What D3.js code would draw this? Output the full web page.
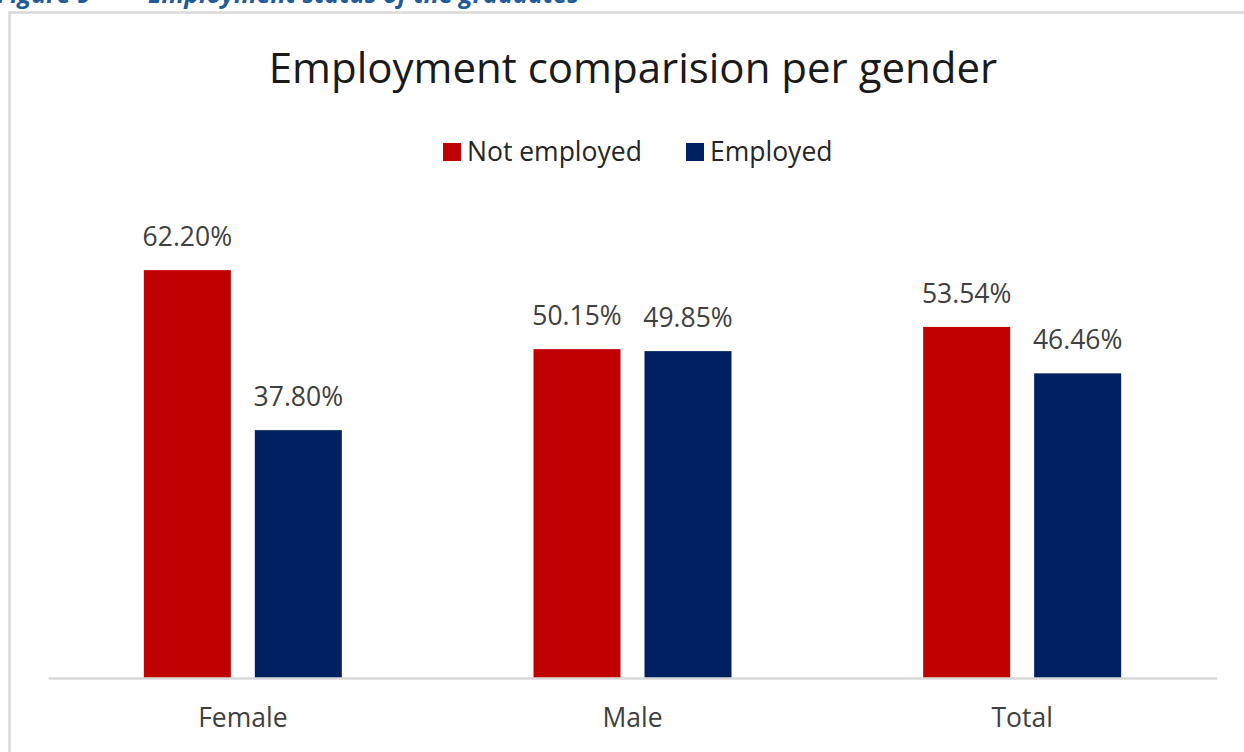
<!DOCTYPE html>
<html>
<head>
<meta charset="utf-8">
<script src="https://cdn.jsdelivr.net/npm/d3@7"></script>
<style>
  html, body { margin: 0; padding: 0; background: #fff; }
  svg { display: block; font-family: "Open Sans", "Noto Sans", sans-serif; }
</style>
</head>
<body>
<svg id="chart" width="1244" height="752"></svg>
<script>
// Employment status by gender (percent of graduates)
const categories = ["Female", "Male", "Total"];
const seriesNames = ["Not employed", "Employed"];
const notEmployed = [62.20, 50.15, 53.54];
const employed = [37.80, 49.85, 46.46];
const seriesColors = ["#C00000", "#002060"];

const rows = categories.map((c, i) => ({ category: c, values: [notEmployed[i], employed[i]] }));

const svg = d3.select("#chart");
const W = 1244, H = 752;

// Figure caption above the chart frame (its upper part runs past the page top)
svg.append("text")
  .attr("x", -3).attr("y", 3)
  .attr("fill", "#1F5C99")
  .attr("font-size", 25).attr("font-weight", 700).attr("font-style", "italic")
  .text("Figure 9");
svg.append("text")
  .attr("x", 148).attr("y", 3)
  .attr("fill", "#1F5C99")
  .attr("font-size", 25).attr("font-weight", 700).attr("font-style", "italic")
  .text("Employment status of the graduates");

// Chart frame
svg.append("rect")
  .attr("x", 9.5).attr("y", 12.5)
  .attr("width", W + 20).attr("height", H + 20)
  .attr("fill", "#fff")
  .attr("stroke", "#D9D9D9").attr("stroke-width", 2.5);

// Title
svg.append("text")
  .attr("x", 633).attr("y", 83)
  .attr("text-anchor", "middle")
  .attr("fill", "#1a1a1a")
  .attr("font-size", 42)
  .text("Employment comparision per gender");

// Legend
const legendItems = [
  { name: seriesNames[0], color: seriesColors[0], x: 443 },
  { name: seriesNames[1], color: seriesColors[1], x: 686 }
];
const lg = svg.append("g");
legendItems.forEach(d => {
  lg.append("rect").attr("x", d.x).attr("y", 143).attr("width", 18).attr("height", 18).attr("fill", d.color);
  lg.append("text").attr("x", d.x + 24).attr("y", 161)
    .attr("fill", "#262626").attr("font-size", 26.5).text(d.name);
});

// Scales
const plot = { left: 48, right: 1217, top: 219, bottom: 678 };
const x0 = d3.scaleBand().domain(categories).range([plot.left, plot.right]).paddingInner(0).paddingOuter(0);
const groupWidth = 198;
const x1 = d3.scaleBand().domain(d3.range(seriesNames.length)).range([0, groupWidth]).paddingInner(0.216).paddingOuter(0);
const y = d3.scaleLinear().domain([0, 70]).range([plot.bottom, plot.top]);

// Bars and value labels
const groups = svg.append("g").selectAll("g").data(rows).join("g")
  .attr("transform", d => `translate(${x0(d.category) + (x0.bandwidth() - groupWidth) / 2},0)`);

groups.selectAll("rect").data(d => d.values.map((v, i) => ({ v, i }))).join("rect")
  .attr("x", d => x1(d.i))
  .attr("y", d => y(d.v))
  .attr("width", x1.bandwidth())
  .attr("height", d => y(0) - y(d.v))
  .attr("fill", d => seriesColors[d.i]);

groups.selectAll("text").data(d => d.values.map((v, i) => ({ v, i }))).join("text")
  .attr("x", d => x1(d.i) + x1.bandwidth() / 2)
  .attr("y", d => y(d.v) - 24)
  .attr("text-anchor", "middle")
  .attr("fill", "#404040")
  .attr("font-size", 26.5)
  .text(d => d.v.toFixed(2) + "%");

// Category axis
const xAxis = svg.append("g").attr("transform", `translate(0,${plot.bottom})`)
  .call(d3.axisBottom(x0).tickSize(0).tickPadding(0));
xAxis.select(".domain").attr("stroke", "#D9D9D9").attr("stroke-width", 2.5);
xAxis.selectAll(".tick text")
  .attr("y", 49).attr("dy", null)
  .attr("fill", "#404040")
  .attr("font-size", 26.5)
  .attr("font-family", "\"Open Sans\", \"Noto Sans\", sans-serif");
</script>
</body>
</html>
